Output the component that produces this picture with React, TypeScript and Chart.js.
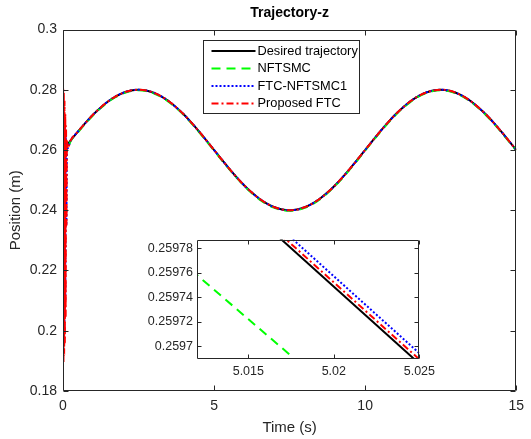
import React, { useEffect, useRef } from "react";
import { Chart, registerables } from "chart.js";

Chart.register(...registerables);

// ---------------- data ----------------
const timeS = [
  0, 0.25, 0.5, 0.75, 1, 1.25, 1.5, 1.75, 2, 2.25, 2.5, 2.75, 3, 3.25, 3.5, 3.75, 4, 4.25, 4.5, 4.75,
  5, 5.25, 5.5, 5.75, 6, 6.25, 6.5, 6.75, 7, 7.25, 7.5, 7.75, 8, 8.25, 8.5, 8.75, 9, 9.25, 9.5, 9.75,
  10, 10.25, 10.5, 10.75, 11, 11.25, 11.5, 11.75, 12, 12.25, 12.5, 12.75, 13, 13.25, 13.5, 13.75, 14,
  14.25, 14.5, 14.75, 15,
];
const desiredZ = [
  0.26, 0.26313, 0.26618, 0.26908, 0.27176, 0.27414, 0.27618, 0.27782, 0.27902, 0.27975, 0.28,
  0.27975, 0.27902, 0.27782, 0.27618, 0.27414, 0.27176, 0.26908, 0.26618, 0.26313, 0.26,
  0.25687, 0.25382, 0.25092, 0.24824, 0.24586, 0.24382, 0.24218, 0.24098, 0.24025, 0.24,
  0.24025, 0.24098, 0.24218, 0.24382, 0.24586, 0.24824, 0.25092, 0.25382, 0.25687, 0.26,
  0.26313, 0.26618, 0.26908, 0.27176, 0.27414, 0.27618, 0.27782, 0.27902, 0.27975, 0.28,
  0.27975, 0.27902, 0.27782, 0.27618, 0.27414, 0.27176, 0.26908, 0.26618, 0.26313, 0.26,
];
// NFTSMC after the start-up (t = 0.25 ... 15), slightly below the reference
const nftsmcZ = [
  0.26293, 0.26598, 0.26888, 0.27156, 0.27394, 0.27598, 0.27762, 0.27882, 0.27955, 0.2798,
  0.27955, 0.27882, 0.27762, 0.27598, 0.27394, 0.27156, 0.26888, 0.26598, 0.26293, 0.2598,
  0.25667, 0.25362, 0.25072, 0.24804, 0.24566, 0.24362, 0.24198, 0.24078, 0.24005, 0.2398,
  0.24005, 0.24078, 0.24198, 0.24362, 0.24566, 0.24804, 0.25072, 0.25362, 0.25667, 0.2598,
  0.26293, 0.26598, 0.26888, 0.27156, 0.27394, 0.27598, 0.27762, 0.27882, 0.27955, 0.2798,
  0.27955, 0.27882, 0.27762, 0.27598, 0.27394, 0.27156, 0.26888, 0.26598, 0.26293, 0.2598,
];
// start-up transients
const nftsmcStartT = [0, 0.005, 0.012, 0.02, 0.035, 0.06, 0.1, 0.15];
const nftsmcStartZ = [0.26, 0.212, 0.262, 0.225, 0.259, 0.258, 0.2598, 0.2602];
const ftc1StartT = [0, 0.008, 0.02, 0.032, 0.045, 0.06, 0.075, 0.09, 0.11, 0.13, 0.15];
const ftc1StartZ = [0.26, 0.275, 0.195, 0.272, 0.2, 0.268, 0.21, 0.265, 0.235, 0.262, 0.2605];
const propStartT = [0, 0.006, 0.016, 0.026, 0.038, 0.05, 0.062, 0.075, 0.088, 0.1, 0.115, 0.13, 0.15];
const propStartZ = [0.26, 0.28, 0.19, 0.279, 0.192, 0.276, 0.196, 0.272, 0.205, 0.268, 0.235, 0.263, 0.2605];

const xTicks = [0, 5, 10, 15];
const xTickLabels = ["0", "5", "10", "15"];
const yTicks = [0.18, 0.2, 0.22, 0.24, 0.26, 0.28, 0.3];
const yTickLabels = ["0.18", "0.2", "0.22", "0.24", "0.26", "0.28", "0.3"];

// zoomed inset
const insetT = [5.011, 5.026];
const insetDesired = [0.2598618, 0.2596733];
const insetProposed = [0.2598653, 0.2596768];
const insetFtc1 = [0.2598703, 0.2596818];
const insetNftsmcT = [5.011, 5.01746];
const insetNftsmcZ = [0.2597701, 0.2596928];
const insetXTicks = [5.015, 5.02, 5.025];
const insetXTickLabels = ["5.015", "5.02", "5.025"];
const insetYTicks = [0.2597, 0.25972, 0.25974, 0.25976, 0.25978];
const insetYTickLabels = ["0.2597", "0.25972", "0.25974", "0.25976", "0.25978"];

const seriesNames = ["Desired trajectory", "NFTSMC", "FTC-NFTSMC1", "Proposed FTC"];

// ---------------- styles ----------------
const INK = "#262626";
const FAMILY = '"Liberation Sans", Arial, Helvetica, sans-serif';
const styles = [
  { color: "#000000", dash: [] as number[] },
  { color: "#00ff00", dash: [9, 6] },
  { color: "#0000ff", dash: [2, 2] },
  { color: "#ff0000", dash: [7, 3, 2, 3] },
];

const pts = (ts: number[], zs: number[]) => ts.map((t, i) => ({ x: t, y: zs[i] }));

const framePlugin = {
  id: "frame",
  beforeDatasetsDraw(chart: any, _a: any, opts: any) {
    const { ctx, chartArea: a } = chart;
    ctx.save();
    ctx.fillStyle = "#ffffff";
    ctx.fillRect(a.left, a.top, a.right - a.left, a.bottom - a.top);
    ctx.restore();
  },
  afterDatasetsDraw(chart: any, _a: any, opts: any) {
    const { ctx, chartArea: a } = chart;
    const tl = opts.tickLen || 5;
    const l = Math.round(a.left) + 0.5;
    const r = Math.round(a.right) - 0.5;
    const t = Math.round(a.top) + 0.5;
    const b = Math.round(a.bottom) - 0.5;
    ctx.save();
    ctx.strokeStyle = INK;
    ctx.lineWidth = 1;
    ctx.setLineDash([]);
    ctx.beginPath();
    ctx.rect(l, t, r - l, b - t);
    for (const tk of chart.scales.x.ticks) {
      const px = Math.round(chart.scales.x.getPixelForValue(tk.value)) + 0.5;
      ctx.moveTo(px, b);
      ctx.lineTo(px, b - tl);
      ctx.moveTo(px, t);
      ctx.lineTo(px, t + tl);
    }
    for (const tk of chart.scales.y.ticks) {
      const py = Math.round(chart.scales.y.getPixelForValue(tk.value)) + 0.5;
      ctx.moveTo(l, py);
      ctx.lineTo(l + tl, py);
      ctx.moveTo(r, py);
      ctx.lineTo(r - tl, py);
    }
    ctx.stroke();
    ctx.restore();
  },
  afterDraw(chart: any, _a: any, opts: any) {
    const { ctx, chartArea: a } = chart;
    if (opts.title) {
      ctx.save();
      ctx.fillStyle = "#000000";
      ctx.font = `bold 14px ${FAMILY}`;
      ctx.textAlign = "center";
      ctx.textBaseline = "middle";
      ctx.fillText(opts.title, (a.left + a.right) / 2, 13.5);
      ctx.restore();
    }
    if (opts.legend) {
      const L = opts.legend;
      ctx.save();
      ctx.fillStyle = "#ffffff";
      ctx.fillRect(L.x, L.y, L.w, L.h);
      ctx.strokeStyle = INK;
      ctx.lineWidth = 1;
      ctx.strokeRect(L.x, L.y, L.w, L.h);
      ctx.font = `12.8px ${FAMILY}`;
      ctx.textAlign = "left";
      ctx.textBaseline = "middle";
      seriesNames.forEach((name, i) => {
        const cy = L.rows[i];
        ctx.strokeStyle = styles[i].color;
        ctx.lineWidth = 2;
        ctx.setLineDash(styles[i].dash);
        ctx.beginPath();
        ctx.moveTo(L.x + 8, cy);
        ctx.lineTo(L.x + 52, cy);
        ctx.stroke();
        ctx.setLineDash([]);
        ctx.fillStyle = "#000000";
        ctx.fillText(name, L.x + 54, cy);
      });
      ctx.restore();
    }
  },
};

function lineDs(label: string, data: any[], idx: number, order: number, extra: any = {}) {
  return {
    label,
    data,
    borderColor: styles[idx].color,
    borderDash: styles[idx].dash,
    borderWidth: 2,
    pointRadius: 0,
    fill: false,
    order,
    ...extra,
  };
}

export default function App() {
  const mainRef = useRef<HTMLCanvasElement>(null);
  const insetRef = useRef<HTMLCanvasElement>(null);

  useEffect(() => {
    const desiredPts = pts(timeS, desiredZ);
    const tail = desiredPts.slice(1);
    const nftsmcPts = [...pts(nftsmcStartT, nftsmcStartZ), ...pts(timeS.slice(1), nftsmcZ)];
    const ftc1Pts = [...pts(ftc1StartT, ftc1StartZ), ...tail];
    const propPts = [...pts(propStartT, propStartZ), ...tail];

    const tickFont = { family: FAMILY, size: 14 };
    const titleFont = { family: FAMILY, size: 15 };

    const main = new Chart(mainRef.current as HTMLCanvasElement, {
      type: "line",
      data: {
        datasets: [
          lineDs(seriesNames[0], desiredPts, 0, 3, { cubicInterpolationMode: "monotone" }),
          lineDs(seriesNames[1], nftsmcPts, 1, 2, { cubicInterpolationMode: "monotone" }),
          lineDs(seriesNames[2], ftc1Pts, 2, 1, { cubicInterpolationMode: "monotone" }),
          lineDs(seriesNames[3], propPts, 3, 0, { cubicInterpolationMode: "monotone" }),
        ] as any,
      },
      options: {
        responsive: false,
        animation: false,
        devicePixelRatio: 1,
        events: [],
        layout: { padding: { top: 29.5, right: 11, left: 0, bottom: 0 } },
        plugins: {
          legend: { display: false },
          tooltip: { enabled: false },
          frame: {
            tickLen: 5,
            title: "Trajectory-z",
            legend: { x: 203.5, y: 40.5, w: 156, h: 73, rows: [51, 68.5, 86, 103.5] },
          },
        } as any,
        scales: {
          x: {
            type: "linear",
            min: 0,
            max: 15,
            afterBuildTicks: (s: any) => {
              s.ticks = xTicks.map((v) => ({ value: v }));
            },
            afterFit: (s: any) => {
              s.height = 48;
            },
            grid: { display: false, drawTicks: false },
            border: { display: false },
            ticks: {
              padding: 7,
              color: INK,
              font: tickFont,
              maxRotation: 0,
              autoSkip: false,
              callback: (_v: any, i: number) => xTickLabels[i],
            },
            title: { display: true, text: "Time (s)", color: INK, font: titleFont, padding: { top: 0, bottom: 2.5 } },
          },
          y: {
            type: "linear",
            min: 0.18,
            max: 0.3,
            afterBuildTicks: (s: any) => {
              s.ticks = yTicks.map((v) => ({ value: v }));
            },
            afterFit: (s: any) => {
              s.width = 63;
            },
            grid: { display: false, drawTicks: false },
            border: { display: false },
            ticks: {
              padding: 6,
              color: INK,
              font: tickFont,
              autoSkip: false,
              callback: (_v: any, i: number) => yTickLabels[i],
            },
            title: { display: true, text: "Position (m)", color: INK, font: titleFont, padding: { top: 7, bottom: 0 } },
          },
        },
      } as any,
      plugins: [framePlugin],
    });

    const insetFont = { family: FAMILY, size: 12.5 };
    const inset = new Chart(insetRef.current as HTMLCanvasElement, {
      type: "line",
      data: {
        datasets: [
          lineDs(seriesNames[0], pts(insetT, insetDesired), 0, 3, { clip: 0 }),
          lineDs(seriesNames[1], pts(insetNftsmcT, insetNftsmcZ), 1, 2, { clip: 0 }),
          lineDs(seriesNames[2], pts(insetT, insetFtc1), 2, 1, { clip: 0 }),
          lineDs(seriesNames[3], pts(insetT, insetProposed), 3, 0, { clip: 0 }),
        ] as any,
      },
      options: {
        responsive: false,
        animation: false,
        devicePixelRatio: 1,
        events: [],
        layout: { padding: { top: 5, right: 20, left: 0, bottom: 0 } },
        plugins: {
          legend: { display: false },
          tooltip: { enabled: false },
          frame: { tickLen: 4 },
        } as any,
        scales: {
          x: {
            type: "linear",
            min: 5.012,
            max: 5.025,
            afterBuildTicks: (s: any) => {
              s.ticks = insetXTicks.map((v) => ({ value: v }));
            },
            afterFit: (s: any) => {
              s.height = 21;
            },
            grid: { display: false, drawTicks: false },
            border: { display: false },
            ticks: {
              padding: 5,
              color: INK,
              font: insetFont,
              maxRotation: 0,
              autoSkip: false,
              callback: (_v: any, i: number) => insetXTickLabels[i],
            },
          },
          y: {
            type: "linear",
            min: 0.2596897,
            max: 0.2597872,
            afterBuildTicks: (s: any) => {
              s.ticks = insetYTicks.map((v) => ({ value: v }));
            },
            afterFit: (s: any) => {
              s.width = 57;
            },
            grid: { display: false, drawTicks: false },
            border: { display: false },
            ticks: {
              padding: 4,
              color: INK,
              font: insetFont,
              autoSkip: false,
              callback: (_v: any, i: number) => insetYTickLabels[i],
            },
          },
        },
      } as any,
      plugins: [framePlugin],
    });

    return () => {
      main.destroy();
      inset.destroy();
    };
  }, []);

  return (
    <div style={{ position: "absolute", left: 0, top: 0, width: 531, height: 439, background: "#ffffff" }}>
      <canvas ref={mainRef} width={531} height={439} style={{ position: "absolute", left: 0, top: 0, display: "block" }} />
      <canvas ref={insetRef} width={300} height={152} style={{ position: "absolute", left: 140, top: 228, display: "block" }} />
    </div>
  );
}
